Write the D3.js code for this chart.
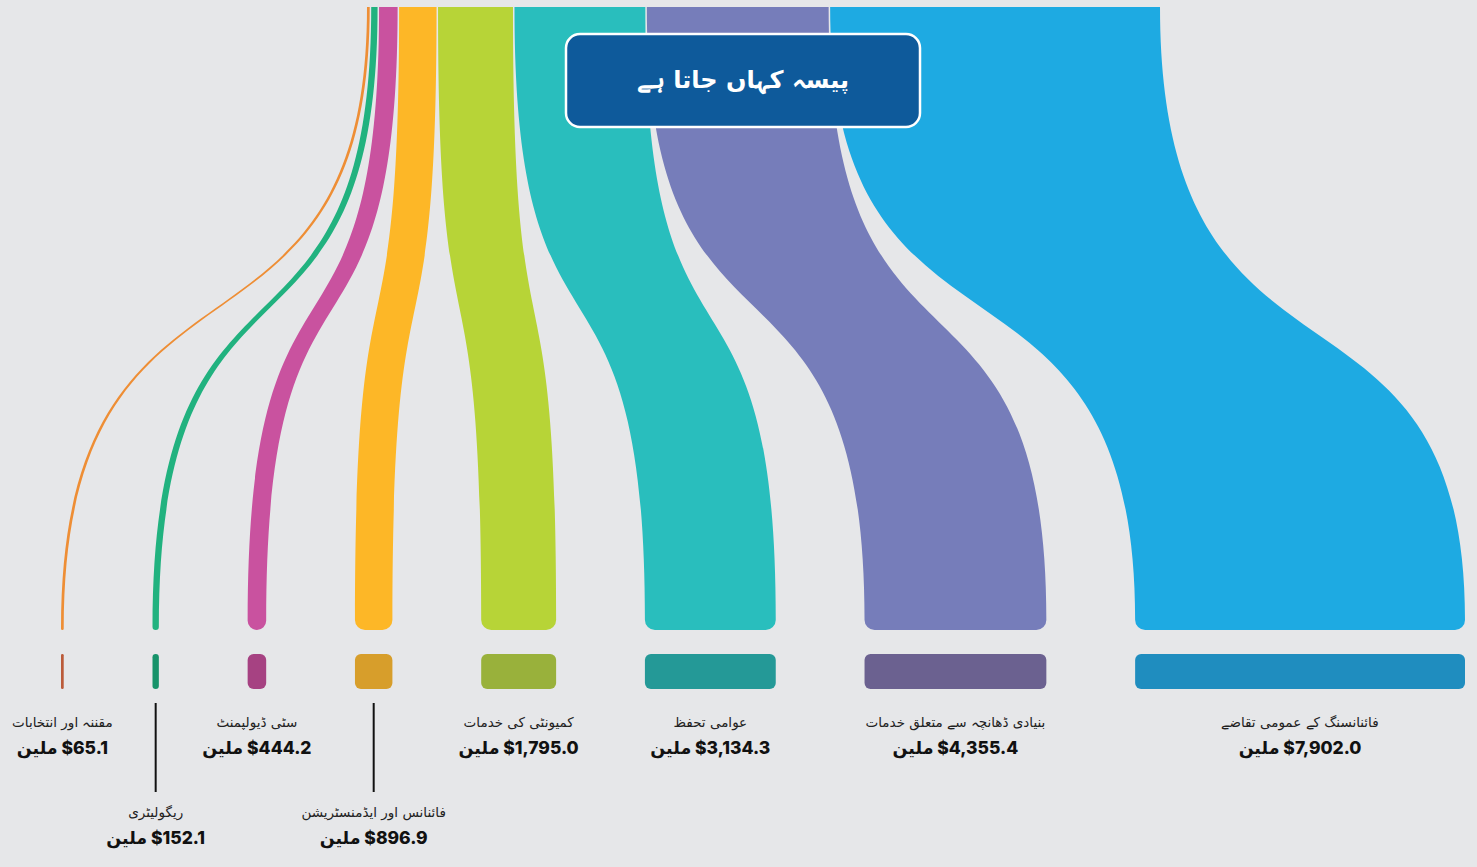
<!DOCTYPE html>
<html>
<head>
<meta charset="utf-8">
<script src="https://cdn.jsdelivr.net/npm/d3@7"></script>
<style>
  html, body { margin: 0; padding: 0; background: #e6e7e9; }
  svg { display: block; }
</style>
</head>
<body>
<svg id="chart" width="1477" height="867"></svg>
<script>
// data (millions)
var categories = [
    "مقننہ اور انتخابات",
    "ریگولیٹری",
    "سٹی ڈیولپمنٹ",
    "فائنانس اور ایڈمنسٹریشن",
    "کمیونٹی کی خدمات",
    "عوامی تحفظ",
    "بنیادی ڈھانچہ سے متعلق خدمات",
    "فائنانسنگ کے عمومی تقاضے"
];
var values = [65.1, 152.1, 444.2, 896.9, 1795.0, 3134.3, 4355.4, 7902.0];
var flowColors = ["#ee8e35", "#21b27f", "#c9529f", "#fdb727", "#b7d437", "#29bebd", "#767dba", "#1eaae2"];
var barColors = ["#bb5b3a", "#17936a", "#a64282", "#d79e2b", "#99b13b", "#249997", "#6b6190", "#1f8dbf"];
var title = "پیسہ کہاں جاتا ہے";
var unit = "ملین";

var W = 1477, H = 867;
var topY = 7, endY = 630,       // ribbons
    barY = 654, barH = 35,      // dark bars below
    topLeft = 367, topGap = 1.5,
    botLeft = 61, botRight = 1465,
    flowTotal = 782.5,
    tension = 0.65;

var svg = d3.select("#chart");
svg.append("rect").attr("width", W).attr("height", H).attr("fill", "#e6e7e9");

var n = values.length;
var wScale = d3.scaleLinear().domain([0, d3.sum(values)]).range([0, flowTotal]);
var widths = values.map(wScale);
var before = [0].concat(Array.from(d3.cumsum(widths))).slice(0, n);
var botGap = (botRight - botLeft - d3.sum(widths)) / (n - 1);

var nodes = values.map(function (v, i) {
    return {
        i: i,
        name: categories[i],
        value: v,
        w: widths[i],
        top: topLeft + before[i] + i * topGap,
        bot: botLeft + before[i] + i * botGap
    };
});

function ribbon(d) {
    var p = d3.path(),
        lt = d.top, rt = d.top + d.w,
        lb = d.bot, rb = d.bot + d.w,
        h = endY - topY,
        c1 = topY + tension * h - 12,
        c2 = endY - tension * h - 12,
        lag = d.w * 0.09,             // trailing edge bends a bit later
        r = Math.min(10, d.w / 2);
    p.moveTo(lt, topY);
    p.lineTo(rt, topY);
    p.bezierCurveTo(rt, c1 + lag, rb, c2 + lag, rb, endY - r);
    p.arcTo(rb, endY, rb - r, endY, r);
    p.lineTo(lb + r, endY);
    p.arcTo(lb, endY, lb, endY - r, r);
    p.bezierCurveTo(lb, c2, lt, c1, lt, topY);
    p.closePath();
    return p.toString();
}

svg.append("g").selectAll("path")
    .data(nodes)
    .join("path")
    .attr("d", ribbon)
    .attr("fill", function (d) { return flowColors[d.i]; });

svg.append("g").selectAll("rect")
    .data(nodes)
    .join("rect")
    .attr("x", function (d) { return d.bot; })
    .attr("y", barY)
    .attr("width", function (d) { return d.w; })
    .attr("height", barH)
    .attr("rx", function (d) { return Math.min(6, d.w / 2); })
    .attr("fill", function (d) { return barColors[d.i]; });

// title box
var box = { x: 566, y: 34, w: 354, h: 93 };
svg.append("rect")
    .attr("x", box.x).attr("y", box.y)
    .attr("width", box.w).attr("height", box.h)
    .attr("rx", 14)
    .attr("fill", "#0e5a9b")
    .attr("stroke", "#ffffff")
    .attr("stroke-width", 2.5);
svg.append("text")
    .attr("x", box.x + box.w / 2)
    .attr("y", box.y + box.h / 2 + 7)
    .attr("text-anchor", "middle")
    .attr("direction", "rtl")
    .attr("fill", "#ffffff")
    .style("font-family", "'DejaVu Sans', sans-serif")
    .style("font-weight", "bold")
    .style("font-size", "24px")
    .text(title);

// labels
var fmt = d3.format(",.1f");
var nameY = 727, valueY = 754, rowStep = 90;

var labels = svg.append("g").selectAll("g")
    .data(nodes)
    .join("g");

labels.append("text")
    .attr("class", "name")
    .attr("x", function (d) { return d.bot + d.w / 2; })
    .attr("y", nameY)
    .attr("text-anchor", "middle")
    .attr("direction", "rtl")
    .attr("fill", "#222")
    .style("font-family", "'DejaVu Sans', sans-serif")
    .style("font-size", "13.5px")
    .text(function (d) { return d.name; });

labels.append("text")
    .attr("class", "val")
    .attr("x", function (d) { return d.bot + d.w / 2; })
    .attr("y", valueY)
    .attr("text-anchor", "middle")
    .attr("direction", "rtl")
    .attr("fill", "#111")
    .style("font-family", "Inter, 'DejaVu Sans', sans-serif")
    .style("font-weight", "800")
    .style("font-size", "17.5px")
    .style("letter-spacing", "-0.2px")
    .text(function (d) { return "$" + fmt(d.value) + " " + unit; });

// push a label down a row when it would collide with the previous one on its row
var rowEnd = [];
labels.each(function (d) {
    var g = d3.select(this);
    var lw = Math.max(g.select(".name").node().getComputedTextLength(),
                      g.select(".val").node().getComputedTextLength());
    var cx = d.bot + d.w / 2, left = cx - lw / 2;
    var row = 0;
    while (rowEnd[row] != null && rowEnd[row] + 6 > left) row++;
    rowEnd[row] = cx + lw / 2;
    d.row = row;
});

labels.attr("transform", function (d) { return "translate(0," + d.row * rowStep + ")"; });

svg.append("g").selectAll("line")
    .data(nodes.filter(function (d) { return d.row > 0; }))
    .join("line")
    .attr("x1", function (d) { return d.bot + d.w / 2; })
    .attr("x2", function (d) { return d.bot + d.w / 2; })
    .attr("y1", barY + barH + 14)
    .attr("y2", function (d) { return nameY + d.row * rowStep - 25; })
    .attr("stroke", "#111")
    .attr("stroke-width", 2);
</script>
</body>
</html>
